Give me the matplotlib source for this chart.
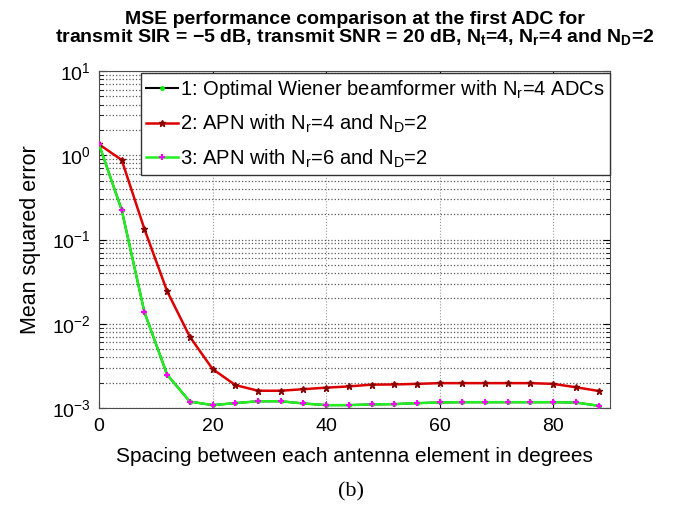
import matplotlib
matplotlib.use("Agg")
import matplotlib.pyplot as plt
import numpy as np

plt.rcParams['font.family'] = ['Liberation Sans', 'DejaVu Sans']
plt.rcParams['mathtext.fontset'] = 'custom'
plt.rcParams['mathtext.rm'] = 'Liberation Sans'
plt.rcParams['mathtext.it'] = 'Liberation Sans'
plt.rcParams['mathtext.bf'] = 'Liberation Sans:bold'

spacing = [0, 4, 8, 12, 16, 20, 24, 28, 32, 36, 40, 44, 48, 52, 56, 60, 64, 68, 72, 76, 80, 84, 88]
mse_apn_nr4 = [1.35, 0.88, 0.133, 0.0243, 0.0070, 0.0029, 0.00187, 0.0016, 0.0016, 0.00167, 0.00174,
               0.0018, 0.00189, 0.0019, 0.00193, 0.00197, 0.00197, 0.00197, 0.00197, 0.00197,
               0.00193, 0.00176, 0.00159]
mse_apn_nr6 = [1.35, 0.224, 0.0137, 0.00248, 0.00119, 0.00108, 0.00114, 0.0012, 0.0012, 0.00113, 0.00108,
               0.00108, 0.0011, 0.00111, 0.00114, 0.00116, 0.00117, 0.00117, 0.00117, 0.00117,
               0.00117, 0.00116, 0.00106]
mse_wiener = mse_apn_nr6

labels = ['1: Optimal Wiener beamformer with N$_\\mathregular{r}$=4 ADCs',
          '2: APN with N$_\\mathregular{r}$=4 and N$_\\mathregular{D}$=2',
          '3: APN with N$_\\mathregular{r}$=6 and N$_\\mathregular{D}$=2']

fig = plt.figure(figsize=(6.9, 5.08), dpi=100)
ax = fig.add_axes([0.1435, 0.197, 0.7405, 0.663])

ax.semilogy(spacing, mse_wiener, color='black', lw=1.5, marker='.', ms=5,
            mfc='#00ee00', mec='#00ee00', label=labels[0], zorder=2)
ax.semilogy(spacing, mse_apn_nr4, color='#dd0000', lw=1.8, marker='*', ms=5,
            mfc='#880000', mec='#880000', label=labels[1], zorder=3)
ax.semilogy(spacing, mse_apn_nr6, color='#22ee22', lw=1.8, marker='+', ms=5, mew=1.5,
            mfc='#ff00ff', mec='#ff00ff', label=labels[2], zorder=3)

ax.set_xlim(0, 90)
ax.set_ylim(1e-3, 1e1)
ax.set_xticks([0, 20, 40, 60, 80])
ax.set_yticks([1e-3, 1e-2, 1e-1, 1e0, 1e1])
ax.set_yticklabels(['10$^{-3}$', '10$^{-2}$', '10$^{-1}$', '10$^{0}$', '10$^{1}$'])
ax.tick_params(which='both', direction='in', top=True, right=True, labelsize=14)
ax.tick_params(axis='y', pad=6)
ax.tick_params(axis='x', pad=7)
ax.tick_params(which='major', length=5)
ax.tick_params(which='minor', length=3)
ax.grid(True, which='major', axis='y', linestyle=':', color='0.35', lw=0.9)
ax.grid(True, which='minor', axis='y', linestyle=':', color='0.35', lw=0.9)
ax.grid(True, which='major', axis='x', linestyle=':', color='0.6', lw=0.8)
for s in ax.spines.values():
    s.set_color('0.3')

ax.set_xlabel('Spacing between each antenna element in degrees', fontsize=15, labelpad=9)
ax.set_ylabel('Mean squared error', fontsize=15.5, labelpad=8)
ax.set_title('MSE performance comparison at the first ADC for\n'
             'transmit SIR = \u22125 dB, transmit SNR = 20 dB, N$_\\mathbf{t}$=4, N$_\\mathbf{r}$=4 and N$_\\mathbf{D}$=2',
             fontsize=14, fontweight='bold', pad=21, linespacing=0.95)

leg = ax.legend(loc='upper right', bbox_to_anchor=(1.0, 0.995), fontsize=14.5, frameon=True,
                fancybox=False, edgecolor='0.2', framealpha=1, handlelength=1.6,
                handletextpad=0.1, borderpad=0.25, labelspacing=0.6, borderaxespad=0.0)
leg.get_frame().set_linewidth(1.0)

fig.text(0.508, 0.022, '(b)', ha='center', fontsize=16, family='Liberation Serif')

fig.savefig('out.png', dpi=100)
